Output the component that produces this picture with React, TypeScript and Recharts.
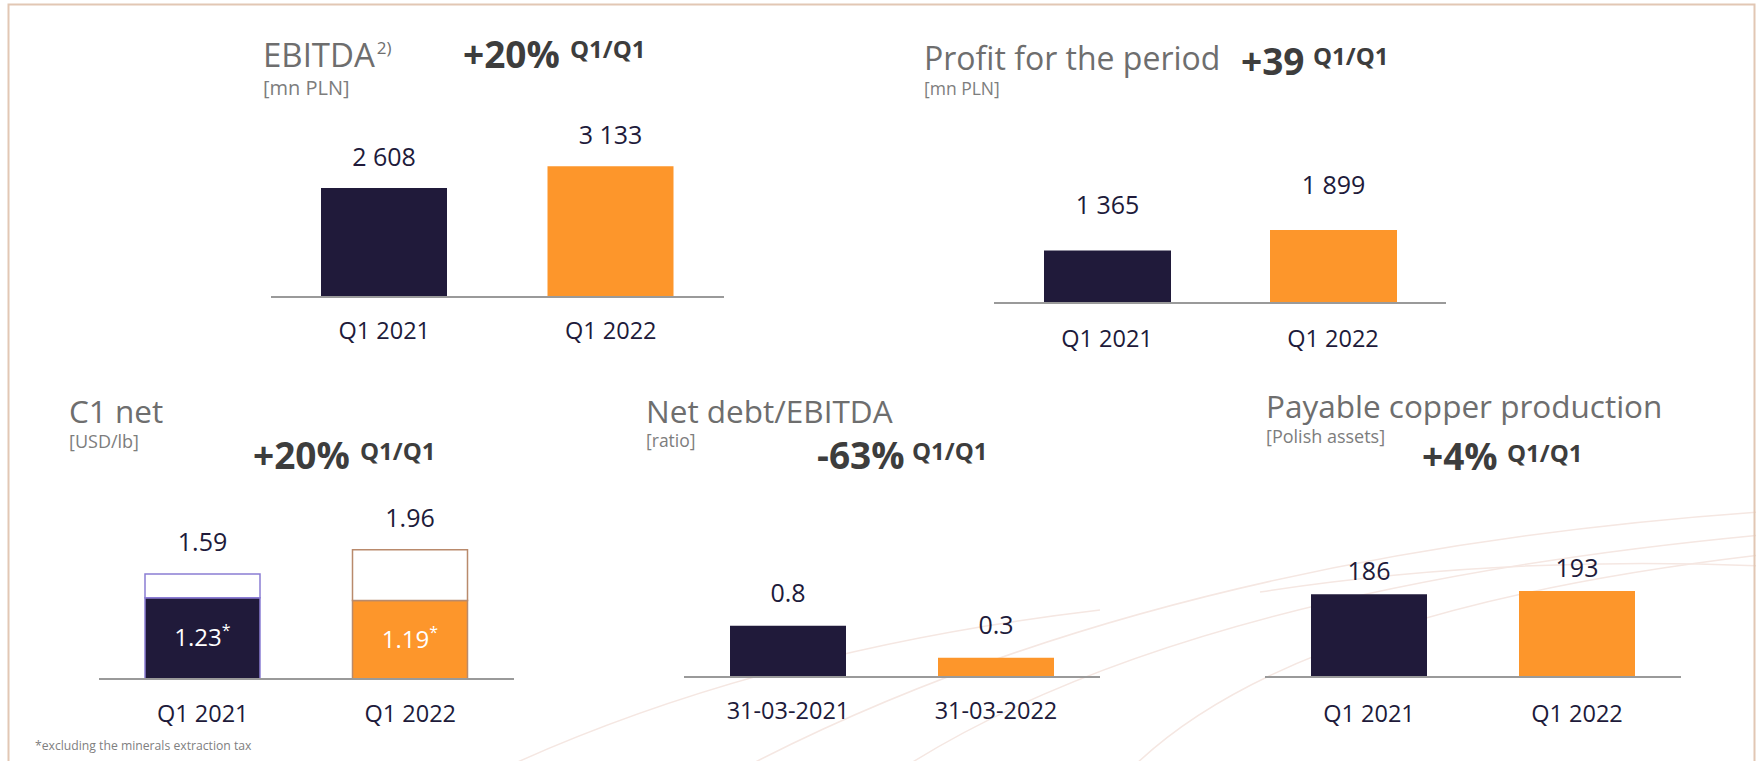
import { BarChart, Bar, XAxis, YAxis, LabelList, Cell } from 'recharts';

const NAVY = '#201a3a';
const ORANGE = '#fd962b';
const TEXT_DARK = '#201a3a';
const TITLE_GREY = '#6e6e6e';
const SUB_GREY = '#7d7d7d';
const BOLD_GREY = '#3d3d3d';
const AXIS_GREY = '#9a9a9a';
const BAR_COLORS = [NAVY, ORANGE];

// categories
const quarters = ['Q1 2021', 'Q1 2022'];
const debtDates = ['31-03-2021', '31-03-2022'];

// series values
const ebitdaValues = [2608, 3133];
const profitValues = [1365, 1899];
const c1TotalValues = [1.59, 1.96];
const c1ExclTaxValues = [1.23, 1.19];
const netDebtValues = [0.8, 0.3];
const copperValues = [186, 193];

const fmtThousands = (v: number) => String(v).replace(/\B(?=(\d{3})+(?!\d))/g, ' ');

const toRows = (names: string[], values: number[]) =>
  names.map((name, i) => ({ name, value: values[i] }));

interface SimpleBarsProps {
  data: Array<{ name: string; value: number }>;
  left: number;
  axisY: number;
  width: number;
  plotHeight: number;
  max: number;
  barSize: number;
  labelOffset: number;
  tickMargin: number;
  format?: (v: number) => string;
}

const TOP_PAD = 70;
const AXIS_H = 62;
const TICK_FONT = 23.5;
const VALUE_FONT = 25;

const SimpleBars = ({ data, left, axisY, width, plotHeight, max, barSize, labelOffset, tickMargin, format }: SimpleBarsProps) => (
  <div style={{ position: 'absolute', left, top: axisY - plotHeight - TOP_PAD }}>
    <BarChart
      width={width}
      height={TOP_PAD + plotHeight + AXIS_H}
      data={data}
      margin={{ top: TOP_PAD, right: 0, left: 0, bottom: 0 }}
    >
      <XAxis
        dataKey="name"
        height={AXIS_H}
        tickLine={false}
        tickMargin={tickMargin}
        axisLine={{ stroke: AXIS_GREY, strokeWidth: 2 }}
        tick={{ fill: TEXT_DARK, fontSize: TICK_FONT }}
        interval={0}
      />
      <YAxis hide domain={[0, max]} />
      <Bar dataKey="value" barSize={barSize} isAnimationActive={false}>
        {data.map((_, i) => (
          <Cell key={i} fill={BAR_COLORS[i]} />
        ))}
        <LabelList
          dataKey="value"
          position="top"
          offset={labelOffset}
          fill={TEXT_DARK}
          fontSize={VALUE_FONT}
          formatter={(v: any) => (format ? format(Number(v)) : String(v))}
        />
      </Bar>
    </BarChart>
  </div>
);

const C1_STROKES = ['#8b7dd4', '#b98a6c'];

const InsideLabel = (props: any) => {
  const { x, y, width, height, value } = props;
  return (
    <text
      x={x + width / 2}
      y={y + height / 2 + 8}
      textAnchor="middle"
      fill="#ffffff"
      fontSize={24}
    >
      {String(value)}
      <tspan dy={-10} fontSize={16}>*</tspan>
    </text>
  );
};

const C1Chart = () => {
  const rows = quarters.map((name, i) => ({
    name,
    excl: c1ExclTaxValues[i],
    rest: c1TotalValues[i] - c1ExclTaxValues[i],
    total: c1TotalValues[i],
  }));
  const axisY = 679;
  const plotHeight = 165;
  return (
    <div style={{ position: 'absolute', left: 99, top: axisY - plotHeight - TOP_PAD }}>
      <BarChart
        width={415}
        height={TOP_PAD + plotHeight + AXIS_H}
        data={rows}
        margin={{ top: TOP_PAD, right: 0, left: 0, bottom: 0 }}
      >
        <XAxis
          dataKey="name"
          height={AXIS_H}
          tickLine={false}
          tickMargin={20}
          axisLine={{ stroke: AXIS_GREY, strokeWidth: 2 }}
          tick={{ fill: TEXT_DARK, fontSize: TICK_FONT }}
          interval={0}
        />
        <YAxis hide domain={[0, 2.5]} />
        <Bar dataKey="excl" stackId="c1" barSize={115} isAnimationActive={false}>
          {rows.map((_, i) => (
            <Cell key={i} fill={BAR_COLORS[i]} stroke={C1_STROKES[i]} strokeWidth={1.5} />
          ))}
          <LabelList dataKey="excl" content={InsideLabel} />
        </Bar>
        <Bar dataKey="rest" stackId="c1" barSize={115} isAnimationActive={false}>
          {rows.map((_, i) => (
            <Cell key={i} fill="#ffffff" stroke={C1_STROKES[i]} strokeWidth={1.5} />
          ))}
          <LabelList dataKey="total" position="top" offset={23} fill={TEXT_DARK} fontSize={VALUE_FONT} />
        </Bar>
      </BarChart>
    </div>
  );
};

const Heading = ({ x, y, size, children, color = TITLE_GREY, weight = 400 }: any) => (
  <text x={x} y={y} fontSize={size} fill={color} fontWeight={weight}>
    {children}
  </text>
);

const Growth = ({ x, y, value, qx, qy }: any) => (
  <g>
    <Heading x={x} y={y} size={37} color={BOLD_GREY} weight={700}>{value}</Heading>
    <Heading x={qx} y={qy} size={24} color={BOLD_GREY} weight={700}>Q1/Q1</Heading>
  </g>
);

export default function App() {
  return (
    <div
      style={{
        position: 'absolute',
        left: 0,
        top: 0,
        width: 1756,
        height: 761,
        overflow: 'hidden',
        background: '#ffffff',
        fontFamily: '"Open Sans", sans-serif',
      }}
    >
      <svg width={1756} height={761} style={{ position: 'absolute', left: 0, top: 0 }}>
        {/* faint decorative swooshes */}
        <g fill="none" stroke="#f5e7e2" strokeWidth={1.5}>
          <path d="M 740 770 Q 1150 555 1760 512" />
          <path d="M 900 770 Q 1180 590 1760 535" />
          <path d="M 1130 770 Q 1290 610 1760 555" />
          <path d="M 1260 592 Q 1500 555 1760 566" />
          <path d="M 500 770 Q 760 650 1100 610" />
        </g>
        <path d="M 8.5 800 L 8.5 4.5 L 1754.5 4.5 L 1754.5 800" fill="none" stroke="#e2c7b4" strokeWidth={2} />

        <Heading x={263} y={67} size={33}>
          EBITDA<tspan fontSize={17} dx={2} dy={-13}>2)</tspan>
        </Heading>
        <Heading x={263} y={95} size={20} color={SUB_GREY}>[mn PLN]</Heading>
        <Growth x={463} y={68} value="+20%" qx={570} qy={58} />

        <Heading x={924} y={70} size={32}>Profit for the period</Heading>
        <Heading x={924} y={95} size={17.5} color={SUB_GREY}>[mn PLN]</Heading>
        <Growth x={1241} y={75} value="+39" qx={1313} qy={65} />

        <Heading x={69} y={423} size={31.5}>C1 net</Heading>
        <Heading x={69} y={448} size={18} color={SUB_GREY}>[USD/lb]</Heading>
        <Growth x={253} y={469} value="+20%" qx={360} qy={460} />

        <Heading x={646} y={423} size={31.5}>Net debt/EBITDA</Heading>
        <Heading x={646} y={447} size={17.5} color={SUB_GREY}>[ratio]</Heading>
        <Growth x={817} y={469} value="-63%" qx={912} qy={460} />

        <Heading x={1266} y={418} size={31.5}>Payable copper production</Heading>
        <Heading x={1266} y={443} size={18} color={SUB_GREY}>[Polish assets]</Heading>
        <Growth x={1422} y={470} value="+4%" qx={1507} qy={462} />

        <Heading x={35} y={750} size={12.2} color="#808080">*excluding the minerals extraction tax</Heading>
      </svg>

      <SimpleBars
        data={toRows(quarters, ebitdaValues)}
        left={271}
        axisY={297}
        width={453}
        plotHeight={167}
        max={4000}
        barSize={126}
        labelOffset={22}
        tickMargin={19}
        format={fmtThousands}
      />
      <SimpleBars
        data={toRows(quarters, profitValues)}
        left={994}
        axisY={303}
        width={452}
        plotHeight={154}
        max={4000}
        barSize={127}
        labelOffset={36}
        tickMargin={21}
        format={fmtThousands}
      />
      <C1Chart />
      <SimpleBars
        data={toRows(debtDates, netDebtValues)}
        left={684}
        axisY={677}
        width={416}
        plotHeight={160}
        max={2.5}
        barSize={116}
        labelOffset={24}
        tickMargin={19}
      />
      <SimpleBars
        data={toRows(quarters, copperValues)}
        left={1265}
        axisY={677}
        width={416}
        plotHeight={178}
        max={400}
        barSize={116}
        labelOffset={14}
        tickMargin={22}
      />
    </div>
  );
}
